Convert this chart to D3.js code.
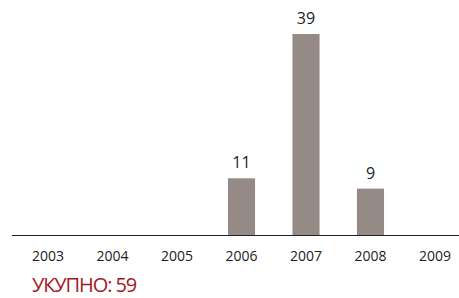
<!DOCTYPE html>
<html>
<head>
<meta charset="utf-8">
<script src="https://cdn.jsdelivr.net/npm/d3@7"></script>
<style>
  body { margin: 0; background: #fff; }
  text { font-family: "Open Sans", sans-serif; }
</style>
</head>
<body>
<div class="chart"></div>
<script>
const years = ['2003', '2004', '2005', '2006', '2007', '2008', '2009'];
const counts = [0, 0, 0, 11, 39, 9, 0];
const totalLabel = 'УКУПНО: 59';

const width = 459, height = 298;
const baseline = 235;

const svg = d3.select('.chart')
  .append('svg')
  .attr('width', width)
  .attr('height', height);

const x = d3.scaleBand()
  .domain(years)
  .range([15.75, 467.25])
  .paddingInner(0.58)
  .paddingOuter(0.29);

const y = d3.scaleLinear()
  .domain([0, 39])
  .range([baseline, 34]);

const data = years.map((year, i) => ({ year, value: counts[i] }));

svg.selectAll('rect.bar')
  .data(data.filter(d => d.value > 0))
  .enter()
  .append('rect')
  .attr('class', 'bar')
  .attr('x', d => x(d.year))
  .attr('y', d => y(d.value))
  .attr('width', x.bandwidth())
  .attr('height', d => baseline - y(d.value))
  .attr('fill', '#958a86');

svg.selectAll('text.value')
  .data(data.filter(d => d.value > 0))
  .enter()
  .append('text')
  .attr('class', 'value')
  .attr('x', d => x(d.year) + x.bandwidth() / 2)
  .attr('y', d => y(d.value) - 10)
  .attr('text-anchor', 'middle')
  .attr('font-size', '16px')
  .attr('fill', '#222')
  .text(d => d.value);

// axis: just the line and the year labels
const axis = svg.append('g')
  .attr('transform', `translate(0,${baseline})`)
  .call(d3.axisBottom(x).tickSize(0).tickPadding(16));

axis.attr('font-size', 14).attr('font-family', '"Open Sans", sans-serif');

axis.select('.domain')
  .attr('d', `M12,0.5H${width}`)
  .attr('stroke', '#222');

axis.selectAll('text')
  .attr('fill', '#222');

svg.append('text')
  .attr('x', 32)
  .attr('y', 292)
  .attr('font-size', '20px')
  .attr('letter-spacing', '-1.1px')
  .attr('fill', '#a3181f')
  .text(totalLabel);
</script>
</body>
</html>
